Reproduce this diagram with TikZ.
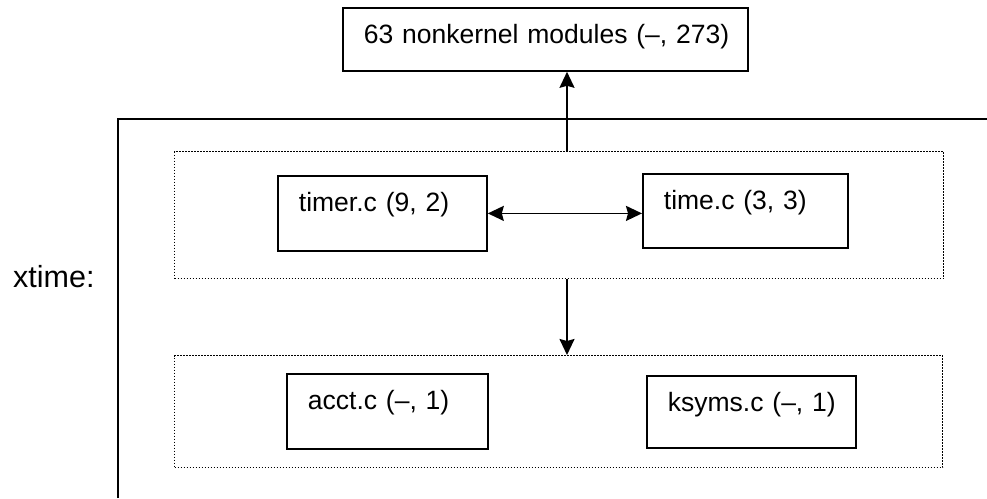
\documentclass[tikz,border=0pt]{standalone}
\usepackage{fontspec}
\setmainfont{Liberation Sans}
\usetikzlibrary{positioning,arrows.meta,calc}

\newcommand{\modfont}{\fontsize{26.5pt}{32pt}\selectfont}
\newcommand{\tagfont}{\fontsize{30.5pt}{36pt}\selectfont}

\begin{document}
\begin{tikzpicture}[
    x=1pt, y=-1pt,
    block/.style={rectangle, draw, line width=1.8pt, anchor=north west, inner xsep=21pt, inner ysep=0pt, text height=36pt, align=left, font=\modfont},
    group/.style={rectangle, draw, line width=1.3pt, dash pattern=on 1.4pt off 1.6pt, anchor=north west, inner sep=0pt},
    arrow/.style={-{Stealth[length=16pt, width=15pt, inset=2pt]}, line width=1.8pt},
    biarrow/.style={{Stealth[length=16pt, width=15pt, inset=2pt]}-{Stealth[length=16pt, width=15pt, inset=2pt]}, line width=1.8pt}
]
\useasboundingbox (0,0) rectangle (987,498);

% Outer frame
\draw[line width=1.8pt] (118,498) -- (118,119) -- (987,119);
\node[anchor=base west, inner sep=0pt, font=\tagfont] (xtime) at (13,287) {xtime:};

% Groups
\node[group, minimum width=769pt, minimum height=127pt] (upper) at (174,151) {};
\node[group, minimum width=768pt, minimum height=112pt] (lower) at (174,355) {};

% Blocks
\node[block, text width=363pt, text depth=27pt] (mods) at (342,7) {\mbox{63 nonkernel modules (–, 273)}};
\node[block, text width=167pt, text depth=39pt] (timer) at (277,175) {\mbox{timer.c (9, 2)}};
\node[block, text width=163pt, text depth=38pt] (time) at (642,173) {\mbox{time.c (3, 3)}};
\node[block, text width=159pt, text depth=39pt] (acct) at (286,373) {\mbox{acct.c (–, 1)}};
\node[block, text width=167pt, text depth=36pt] (ksyms) at (646,375) {\mbox{ksyms.c (–, 1)}};

% Arrows
\coordinate (spine) at (567,0);
\draw[arrow] (upper.north -| spine) -- (mods.south -| spine);
\draw[arrow] (upper.south -| spine) -- (lower.north -| spine);
\draw[biarrow] (timer.east) -- (timer.east -| time.west);

\end{tikzpicture}
\end{document}
